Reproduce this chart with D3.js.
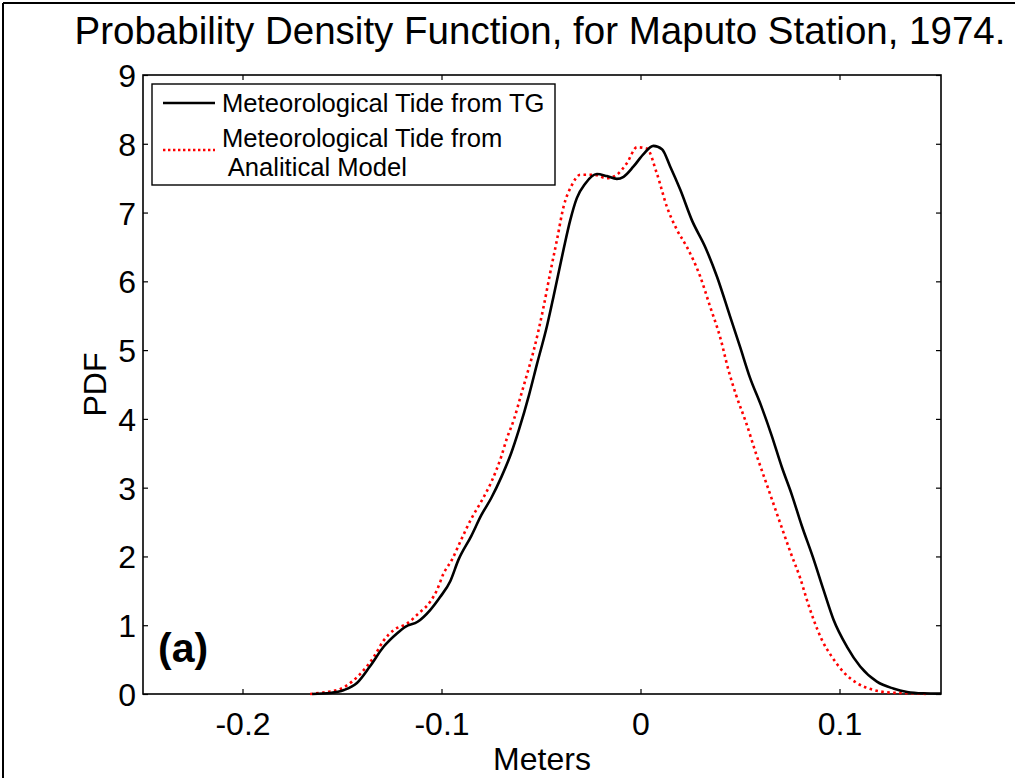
<!DOCTYPE html>
<html><head><meta charset="utf-8">
<script src="https://cdn.jsdelivr.net/npm/d3@7"></script>
<style>body{margin:0;background:#fff;} text{font-family:"Liberation Sans",Arial,sans-serif;}</style>
</head><body>
<svg id="chart" width="1031" height="778"></svg>
<script>
const titleText = "Probability Density Function, for Maputo Station, 1974.";
const xLabel = "Meters";
const yLabel = "PDF";
const seriesNames = ["Meteorological Tide from TG", "Meteorological Tide from", " Analitical Model"];
const xTicks = [-0.2, -0.1, 0, 0.1];
const xTickLabels = ["-0.2", "-0.1", "0", "0.1"];
const yTicks = [0,1,2,3,4,5,6,7,8,9];

const tgX = [-0.165,-0.156,-0.149,-0.1425,-0.136,-0.129,-0.1224,-0.118,-0.112,-0.1057,-0.1007,-0.0956,-0.0915,-0.085,-0.08,-0.075,-0.07,-0.065,-0.061,-0.056,-0.052,-0.047,-0.0437,-0.0387,-0.0353,-0.032,-0.0278,-0.0219,-0.0169,-0.0119,-0.0085,-0.0035,0.0015,0.0065,0.0108,0.0149,0.02,0.0258,0.0325,0.0384,0.045,0.05,0.055,0.0605,0.066,0.071,0.076,0.081,0.0865,0.092,0.097,0.1037,0.1104,0.1188,0.127,0.134,0.142,0.151];
const tgY = [0,0.015,0.058,0.16,0.40,0.69,0.88,0.98,1.05,1.22,1.41,1.64,1.95,2.3,2.6,2.85,3.15,3.5,3.85,4.35,4.8,5.35,5.78,6.46,6.89,7.21,7.42,7.56,7.53,7.49,7.52,7.67,7.85,7.97,7.92,7.67,7.33,6.89,6.50,6.07,5.49,5.05,4.6,4.2,3.75,3.3,2.9,2.45,2.0,1.51,1.08,0.69,0.40,0.18,0.08,0.03,0.01,0.005];

const amX = [-0.166,-0.1576,-0.151,-0.145,-0.139,-0.134,-0.129,-0.124,-0.117,-0.1116,-0.1057,-0.1023,-0.099,-0.0948,-0.09,-0.085,-0.08,-0.075,-0.07,-0.0671,-0.0635,-0.0605,-0.057,-0.0538,-0.0487,-0.0454,-0.042,-0.0387,-0.0345,-0.0303,-0.0236,-0.0169,-0.0119,-0.0068,-0.0018,0.0032,0.0082,0.0133,0.0183,0.0233,0.03,0.035,0.04,0.0442,0.048,0.053,0.058,0.064,0.07,0.0755,0.0803,0.0836,0.087,0.0911,0.0962,0.102,0.1087,0.117,0.1255,0.137,0.145];
const amY = [0,0.03,0.07,0.18,0.35,0.54,0.78,0.93,1.03,1.17,1.34,1.51,1.75,1.95,2.25,2.55,2.8,3.08,3.45,3.72,4.0,4.3,4.65,4.98,5.63,6.12,6.60,7.08,7.40,7.55,7.55,7.50,7.55,7.72,7.95,7.93,7.57,7.08,6.75,6.50,6.07,5.63,5.19,4.71,4.35,3.95,3.5,3.0,2.5,2.05,1.68,1.37,1.08,0.79,0.54,0.32,0.16,0.06,0.02,0.01,0.0];

const svg = d3.select("#chart");
const L = 143, R = 941, T = 75, B = 694;
const x = d3.scaleLinear().domain([-0.25, 0.151]).range([L, R]);
const y = d3.scaleLinear().domain([0, 9]).range([B, T]);

// figure frame
svg.append("line").attr("x1",3).attr("x2",1015).attr("y1",3).attr("y2",3).attr("stroke","#000").attr("stroke-width",2);
svg.append("line").attr("x1",3).attr("x2",3).attr("y1",3).attr("y2",778).attr("stroke","#000").attr("stroke-width",2);

// title
svg.append("text").attr("x", 540).attr("y", 44).attr("text-anchor","middle")
  .attr("font-size", 38.5).text(titleText);

// axes
const tl = 5;
const gB = svg.append("g").attr("transform",`translate(0,${B})`)
  .call(d3.axisBottom(x).tickValues(xTicks).tickSize(-tl).tickPadding(18).tickFormat((d,i)=>xTickLabels[i]));
const gT = svg.append("g").attr("transform",`translate(0,${T})`)
  .call(d3.axisTop(x).tickValues(xTicks).tickSize(-tl).tickFormat(""));
const gL = svg.append("g").attr("transform",`translate(${L},0)`)
  .call(d3.axisLeft(y).tickValues(yTicks).tickSize(-tl).tickPadding(7).tickFormat(d=>String(d)));
const gR = svg.append("g").attr("transform",`translate(${R},0)`)
  .call(d3.axisRight(y).tickValues(yTicks).tickSize(-tl).tickFormat(""));
[gB,gT,gL,gR].forEach(g=>{
  g.select(".domain").remove();
  g.selectAll(".tick line").attr("stroke","#000").attr("stroke-width",1.2);
  g.selectAll(".tick text").attr("font-size",32).attr("fill","#000").attr("font-family","Liberation Sans, Arial, sans-serif");
});
gL.selectAll(".tick text").attr("dy","0.36em");
gB.selectAll(".tick text").attr("dy","0.71em");
svg.append("rect").attr("x",L).attr("y",T).attr("width",R-L).attr("height",B-T)
  .attr("fill","none").attr("stroke","#000").attr("stroke-width",1.6);

// labels
svg.append("text").attr("x",(L+R)/2).attr("y",770).attr("text-anchor","middle").attr("font-size",32).text(xLabel);
svg.append("text").attr("transform",`translate(106,${(T+B)/2}) rotate(-90)`).attr("text-anchor","middle").attr("font-size",32).text(yLabel);

// curves
const line = d3.line().x(d=>x(d[0])).y(d=>y(d[1])).curve(d3.curveMonotoneX);
const tg = tgX.map((v,i)=>[v,tgY[i]]);
const am = amX.map((v,i)=>[v,amY[i]]);
svg.append("path").datum(am).attr("d",line).attr("fill","none").attr("stroke","#ff0000")
  .attr("stroke-width",2.6).attr("stroke-dasharray","2.6,3.4");
svg.append("path").datum(tg).attr("d",line).attr("fill","none").attr("stroke","#000")
  .attr("stroke-width",2.6);

// legend
svg.append("rect").attr("x",152).attr("y",84).attr("width",403).attr("height",101)
  .attr("fill","#fff").attr("stroke","#000").attr("stroke-width",1.4);
svg.append("line").attr("x1",163).attr("x2",215).attr("y1",103).attr("y2",103).attr("stroke","#000").attr("stroke-width",2.4);
svg.append("line").attr("x1",163).attr("x2",215).attr("y1",150).attr("y2",150).attr("stroke","#ff0000").attr("stroke-width",2.4).attr("stroke-dasharray","2.4,2.6");
svg.append("text").attr("x",222).attr("y",112).attr("font-size",25.6).text(seriesNames[0]);
svg.append("text").attr("x",222).attr("y",147).attr("font-size",25.6).text(seriesNames[1]);
svg.append("text").attr("x",222).attr("y",176).attr("font-size",25.6).style("white-space","pre").text(seriesNames[2]);

// panel label
svg.append("text").attr("x",158).attr("y",662).attr("font-size",41).attr("font-weight","bold").text("(a)");
</script>
</body></html>
